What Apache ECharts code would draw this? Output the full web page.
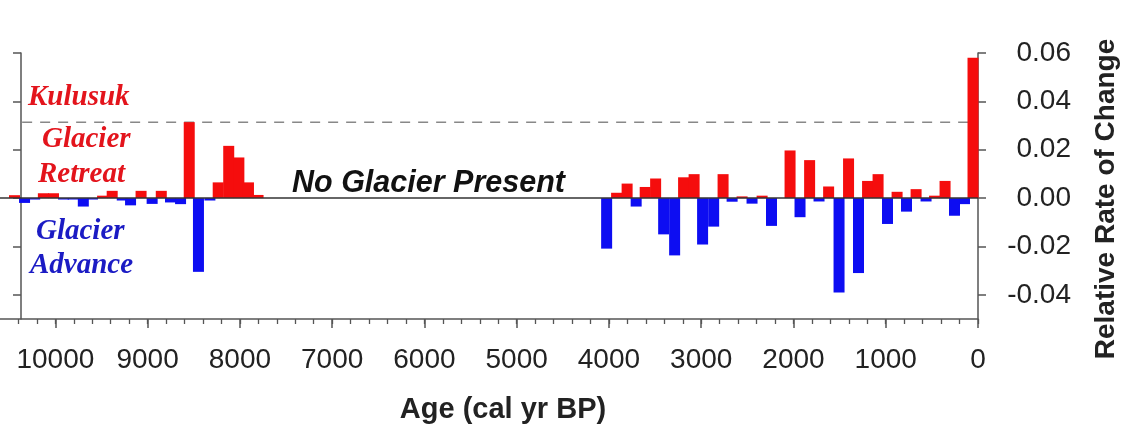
<!DOCTYPE html>
<html><head><meta charset="utf-8">
<script src="https://cdn.jsdelivr.net/npm/echarts@6/dist/echarts.min.js"></script>
<style>html,body{margin:0;padding:0;background:#fff}#c{width:1131px;height:429px}</style>
</head><body><div id="c"></div>
<script>
// Age (cal yr BP) of each bar and its relative rate of change (positive = retreat, negative = advance)
const ages = [10443,10334,10224,10130,10020,9911,9807,9697,9598,9488,9384,9275,9185,9071,8951,8852,8752,8643,8549,8449,8325,8235,8121,8011,7907,7803,
  4025,3917,3803,3705,3607,3494,3407,3288,3191,3077,2985,2865,2763,2665,2557,2449,2340,2238,2037,1929,1825,1723,1619,1506,1403,1295,1197,1083,981,877,775,671,563,471,357,255,146,54];
const rates = [0.0012,-0.002,-0.0006,0.002,0.002,-0.0006,-0.0006,-0.0035,-0.0006,0.001,0.003,-0.001,-0.003,0.003,-0.0024,0.003,-0.0018,-0.0025,0.0314,-0.0305,-0.001,0.0065,0.0216,0.0168,0.0065,0.0013,
  -0.0209,0.0022,0.006,-0.0035,0.0046,0.0081,-0.015,-0.0237,0.0086,0.0099,-0.0192,-0.0118,0.0099,-0.0015,0.0007,-0.0023,0.001,-0.0115,0.0197,-0.0079,0.0157,-0.0014,0.0048,-0.039,0.0164,-0.031,0.0071,0.0099,-0.0107,0.0026,-0.0056,0.0037,-0.0014,0.001,0.0071,-0.0073,-0.0025,0.058];
const xTicks = [10000,9000,8000,7000,6000,5000,4000,3000,2000,1000,0];
const yTicks = [-0.04,-0.02,0.00,0.02,0.04,0.06];
const retreatThreshold = [0.0314];
const xMin = 0, xMax = 10600, yMin = -0.05, yMax = 0.06;

const minorTicks = [];
for (let a = 0; a <= 10400; a += 200) minorTicks.push(a);

const RED = '#f50d0d', BLUE = '#0d0df2';
const chart = echarts.init(document.getElementById('c'), null, {renderer: 'canvas'});
const barData = ages.map((a, i) => ({
  value: [a, rates[i]],
  itemStyle: {color: rates[i] >= 0 ? RED : BLUE}
}));
const axisColor = '#555';
const serifFont = '"Liberation Serif", "DejaVu Serif", serif';
const sansFont = '"Liberation Sans", Arial, sans-serif';

chart.setOption({
  backgroundColor: '#fff',
  animation: false,
  grid: {left: 0, right: 153, top: 53, bottom: 108.5, containLabel: false},
  xAxis: [{
    type: 'value', min: xMin, max: xMax, interval: 1000, inverse: true, position: 'bottom',
    axisLine: {show: true, onZero: false, lineStyle: {color: axisColor, width: 1.5}},
    axisTick: {show: true, customValues: minorTicks, length: 5, lineStyle: {color: axisColor, width: 1.3}},
    axisLabel: {formatter: v => (xTicks.indexOf(v) >= 0 ? String(v) : ''), showMaxLabel: false, fontSize: 28, color: '#222', fontFamily: sansFont, margin: 27},
    splitLine: {show: false},
    name: 'Age (cal yr BP)', nameLocation: 'middle', nameGap: 76,
    nameTextStyle: {fontSize: 29, fontWeight: 'bold', color: '#222', fontFamily: sansFont, padding: [0, 0, 0, 28]}
  }, {
    type: 'value', min: xMin, max: xMax, inverse: true, position: 'bottom',
    axisLine: {show: false, onZero: false},
    axisTick: {show: true, customValues: xTicks, length: 9, lineStyle: {color: axisColor, width: 1.5}},
    axisLabel: {show: false},
    splitLine: {show: false}
  }],
  yAxis: [{
    type: 'value', min: yMin, max: yMax, position: 'right',
    axisLine: {show: true, onZero: false, lineStyle: {color: axisColor, width: 1.5}},
    axisTick: {show: true, customValues: yTicks, length: 8, lineStyle: {color: axisColor, width: 1.5}},
    axisLabel: {customValues: yTicks, formatter: v => v.toFixed(2), fontSize: 28, color: '#222', fontFamily: sansFont, align: 'right', margin: 93},
    splitLine: {show: false},
    name: 'Relative Rate of Change', nameLocation: 'middle', nameRotate: 90, nameGap: 114,
    nameTextStyle: {fontSize: 28, fontWeight: 'bold', color: '#222', fontFamily: sansFont, padding: [0, 26, 0, 0]}
  }, {
    type: 'value', min: yMin, max: yMax, position: 'left', offset: -21,
    axisLine: {show: true, onZero: false, lineStyle: {color: axisColor, width: 1.5}},
    axisTick: {show: true, customValues: yTicks, length: 8, lineStyle: {color: axisColor, width: 1.5}},
    axisLabel: {show: false},
    splitLine: {show: false}
  }],
  series: [{
    type: 'bar', name: 'rate', data: barData, barWidth: 11, xAxisIndex: 0, yAxisIndex: 0,
    z: 2,
    markLine: {
      silent: true, symbol: 'none', label: {show: false},
      lineStyle: {color: '#333', width: 1.5, type: 'solid'},
      data: [{yAxis: 0}], z: 5
    }
  }, {
    type: 'line', name: 'threshold', xAxisIndex: 0, yAxisIndex: 0, symbol: 'none', z: 1,
    data: [[10360, retreatThreshold[0]], [0, retreatThreshold[0]]],
    lineStyle: {color: '#888', width: 1.5, type: [10, 8]}
  }],
  graphic: [
    {type: 'text', left: 28, top: 83, style: {text: 'Kulusuk', font: 'italic bold 29px ' + serifFont, fill: '#e3141c'}},
    {type: 'text', left: 42, top: 125, style: {text: 'Glacier', font: 'italic bold 29px ' + serifFont, fill: '#e3141c'}},
    {type: 'text', left: 38, top: 160, style: {text: 'Retreat', font: 'italic bold 29px ' + serifFont, fill: '#e3141c'}},
    {type: 'text', left: 36, top: 217, style: {text: 'Glacier', font: 'italic bold 29px ' + serifFont, fill: '#1b1bc4'}},
    {type: 'text', left: 30, top: 251, style: {text: 'Advance', font: 'italic bold 29px ' + serifFont, fill: '#1b1bc4'}},
    {type: 'text', left: 292, top: 169, style: {text: 'No Glacier Present', font: 'italic bold 30.5px ' + sansFont, fill: '#111'}}
  ]
});
</script>
</body></html>
